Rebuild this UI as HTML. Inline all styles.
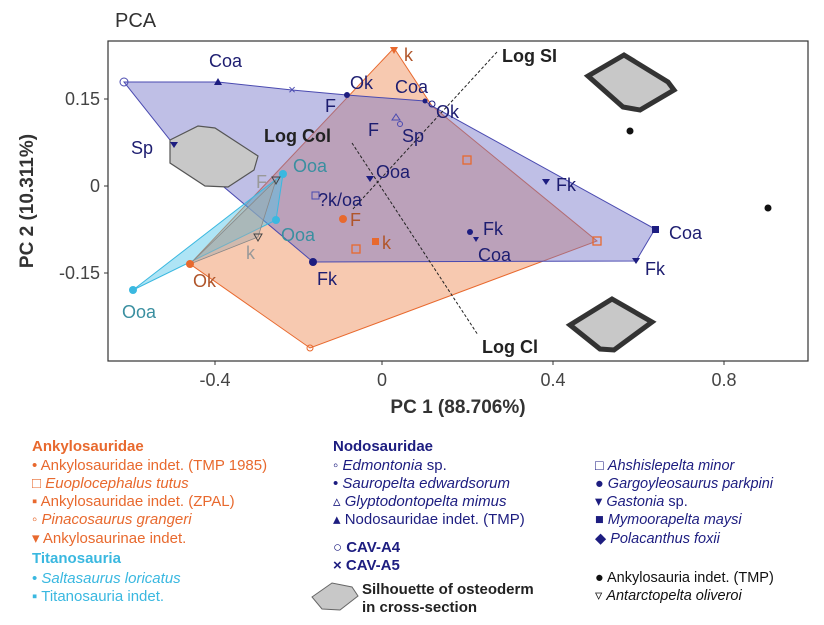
<!DOCTYPE html>
<html><head><meta charset="utf-8"><style>
body{margin:0;background:#fff}
svg{display:block;font-family:"Liberation Sans",Arial,sans-serif}
</style></head><body>
<svg width="824" height="625" viewBox="0 0 824 625" xmlns="http://www.w3.org/2000/svg">
<rect width="824" height="625" fill="#fff"/>
<text x="115" y="27" font-size="20" fill="#333">PCA</text>
<polygon points="394,48 432,106 597,241 310,348 190,264" fill="#f2a57c" fill-opacity="0.6" stroke="#e8692e" stroke-width="1"/>
<polygon points="124,82 218,82 292,90 347,95 425,101 432,106 655,229 636,261 313,262 174,145" fill="#7070c8" fill-opacity="0.45" stroke="#4a4ab0" stroke-width="1"/>
<polygon points="133,290 283,174 276,220" fill="#4cc3e8" fill-opacity="0.45" stroke="#3ab8e0" stroke-width="1"/>
<polygon points="276,180 258,237 190,264" fill="#aaa" fill-opacity="0.5" stroke="#888" stroke-width="0.8"/>
<path d="M170,140 L198,126 L215,128 L258,156 L254,170 L228,187 L205,186 L170,163 Z" fill="#c8c8c8" stroke="#555" stroke-width="1.2"/>
<path d="M588,76 L624,55 L668,82 L674,90 L640,110 L623,107 Z" fill="#c8c8c8" stroke="#333" stroke-width="5"/>
<path d="M570,325 L612,299 L652,322 L614,350 L600,349 Z" fill="#c8c8c8" stroke="#333" stroke-width="5"/>
<line x1="497" y1="52" x2="352" y2="210" stroke="#222" stroke-dasharray="3,2" stroke-width="1"/>
<line x1="352" y1="143" x2="478" y2="335" stroke="#222" stroke-dasharray="3,2" stroke-width="1"/>
<rect x="108" y="41" width="700" height="320" fill="none" stroke="#333" stroke-width="1.2"/>
<g stroke="#333"><line x1="215" y1="361" x2="215" y2="365"/><line x1="382" y1="361" x2="382" y2="365"/><line x1="553" y1="361" x2="553" y2="365"/><line x1="724" y1="361" x2="724" y2="365"/>
<line x1="104" y1="99" x2="108" y2="99"/><line x1="104" y1="186" x2="108" y2="186"/><line x1="104" y1="273" x2="108" y2="273"/></g>
<g font-size="18" fill="#444" text-anchor="middle"><text x="215" y="386">-0.4</text><text x="382" y="386">0</text><text x="553" y="386">0.4</text><text x="724" y="386">0.8</text></g>
<g font-size="18" fill="#444" text-anchor="end"><text x="100" y="105">0.15</text><text x="100" y="192">0</text><text x="100" y="279">-0.15</text></g>
<text x="458" y="413" font-size="19" font-weight="bold" fill="#333" text-anchor="middle">PC 1 (88.706%)</text>
<text transform="translate(33,201) rotate(-90)" font-size="19" font-weight="bold" fill="#333" text-anchor="middle">PC 2 (10.311%)</text>
<g fill="#1d1d80">
<circle cx="124" cy="82" r="4" fill="none" stroke="#4a4ab0"/>
<polygon points="218,78 222,85 214,85"/>
<text x="292" y="94" font-size="13" text-anchor="middle" fill="#4a4ab0">×</text>
<circle cx="347" cy="95" r="3"/><circle cx="425" cy="101" r="2.5"/><circle cx="432" cy="104" r="3" fill="none" stroke="#1d1d80"/>
<polygon points="170,142 178,142 174,148"/>
<polygon points="366,176 374,176 370,182"/>
<circle cx="313" cy="262" r="4"/>
<polygon points="542,179 550,179 546,185"/>
<circle cx="470" cy="232" r="3"/><polygon points="473,237 479,237 476,242"/>
<rect x="652" y="226" width="7" height="7"/>
<polygon points="632,258 640,258 636,264"/>
<circle cx="630" cy="131" r="3.5" fill="#111"/><circle cx="768" cy="208" r="3.5" fill="#111"/>
<rect x="312" y="192" width="7" height="7" fill="none" stroke="#4a4ab0"/>
<polygon points="392,120 396,114 400,120" fill="none" stroke="#4a4ab0"/><circle cx="400" cy="124" r="2.5" fill="none" stroke="#4a4ab0"/>
</g>
<g>
<polygon points="390,47 398,47 394,54" fill="#e8692e"/>
<rect x="463" y="156" width="8" height="8" fill="none" stroke="#e8692e" stroke-width="1.3"/>
<rect x="593" y="237" width="8" height="8" fill="none" stroke="#e8692e" stroke-width="1.3"/>
<rect x="352" y="245" width="8" height="8" fill="none" stroke="#e8692e" stroke-width="1.3"/>
<circle cx="343" cy="219" r="4" fill="#e8692e"/><rect x="372" y="238" width="7" height="7" fill="#e8692e"/>
<circle cx="190" cy="264" r="4" fill="#e8692e"/>
<circle cx="310" cy="348" r="3" fill="none" stroke="#e8692e"/>
<circle cx="283" cy="174" r="4" fill="#3ab8e0"/><circle cx="276" cy="220" r="4" fill="#3ab8e0"/><circle cx="133" cy="290" r="4" fill="#3ab8e0"/>
<polygon points="272,177 280,177 276,184" fill="none" stroke="#444"/>
<polygon points="254,234 262,234 258,241" fill="none" stroke="#444"/>
</g>
<g font-size="18" fill="#1d1d70">
<text x="209" y="67">Coa</text><text x="350" y="89">Ok</text><text x="395" y="93">Coa</text><text x="436" y="118">Ok</text>
<text x="325" y="112">F</text><text x="368" y="136">F</text><text x="402" y="142">Sp</text><text x="131" y="154">Sp</text>
<text x="376" y="178">Ooa</text><text x="318" y="206">?k/oa</text><text x="317" y="285">Fk</text>
<text x="556" y="191">Fk</text><text x="483" y="235">Fk</text><text x="478" y="261">Coa</text>
<text x="669" y="239">Coa</text><text x="645" y="275">Fk</text>
</g>
<g font-size="18" font-weight="bold" fill="#222">
<text x="502" y="62">Log SI</text><text x="264" y="142">Log Col</text><text x="482" y="353">Log Cl</text>
</g>
<g font-size="18" fill="#b0552a"><text x="404" y="61">k</text><text x="350" y="226">F</text><text x="382" y="249">k</text><text x="193" y="287">Ok</text></g>
<g font-size="18" fill="#3a8fa0"><text x="293" y="172">Ooa</text><text x="281" y="241">Ooa</text><text x="122" y="318">Ooa</text></g>
<g font-size="18" fill="#999"><text x="256" y="188">F</text><text x="246" y="259">k</text></g>
<g font-size="15">
<text x="32" y="451" font-weight="bold" fill="#e8692e">Ankylosauridae</text>
<g fill="#e8692e">
<text x="32" y="470">• Ankylosauridae indet. (TMP 1985)</text>
<text x="32" y="488">□ <tspan font-style="italic">Euoplocephalus tutus</tspan></text>
<text x="32" y="506">▪ Ankylosauridae indet. (ZPAL)</text>
<text x="32" y="524">◦ <tspan font-style="italic">Pinacosaurus grangeri</tspan></text>
<text x="32" y="543">▾ Ankylosaurinae indet.</text>
</g>
<text x="32" y="563" font-weight="bold" fill="#3ab8e0">Titanosauria</text>
<g fill="#3ab8e0">
<text x="32" y="583">• <tspan font-style="italic">Saltasaurus loricatus</tspan></text>
<text x="32" y="601">▪ Titanosauria indet.</text>
</g>
<text x="333" y="451" font-weight="bold" fill="#1d1d80">Nodosauridae</text>
<g fill="#1d1d80">
<text x="333" y="470">◦ <tspan font-style="italic">Edmontonia</tspan> sp.</text>
<text x="333" y="488">• <tspan font-style="italic">Sauropelta edwardsorum</tspan></text>
<text x="333" y="506">▵ <tspan font-style="italic">Glyptodontopelta mimus</tspan></text>
<text x="333" y="524">▴ Nodosauridae indet. (TMP)</text>
<text x="333" y="552" font-weight="bold">○ CAV-A4</text>
<text x="333" y="570" font-weight="bold">× CAV-A5</text>
</g>
<g fill="#1d1d80" font-size="14.5">
<text x="595" y="470">□ <tspan font-style="italic">Ahshislepelta minor</tspan></text>
<text x="595" y="488">● <tspan font-style="italic">Gargoyleosaurus parkpini</tspan></text>
<text x="595" y="506">▾ <tspan font-style="italic">Gastonia</tspan> sp.</text>
<text x="595" y="524">■ <tspan font-style="italic">Mymoorapelta maysi</tspan></text>
<text x="595" y="543">◆ <tspan font-style="italic">Polacanthus foxii</tspan></text>
</g>
<g fill="#111" font-size="14.5">
<text x="595" y="582">● Ankylosauria indet. (TMP)</text>
<text x="595" y="600">▿ <tspan font-style="italic">Antarctopelta oliveroi</tspan></text>
</g>
<path d="M312,597 L332,583 L352,587 L358,596 L340,610 L322,609 Z" fill="#c8c8c8" stroke="#666"/>
<text x="362" y="594" font-weight="bold" fill="#222">Silhouette of osteoderm</text>
<text x="362" y="612" font-weight="bold" fill="#222">in cross-section</text>
</g>
</svg>
</body></html>
